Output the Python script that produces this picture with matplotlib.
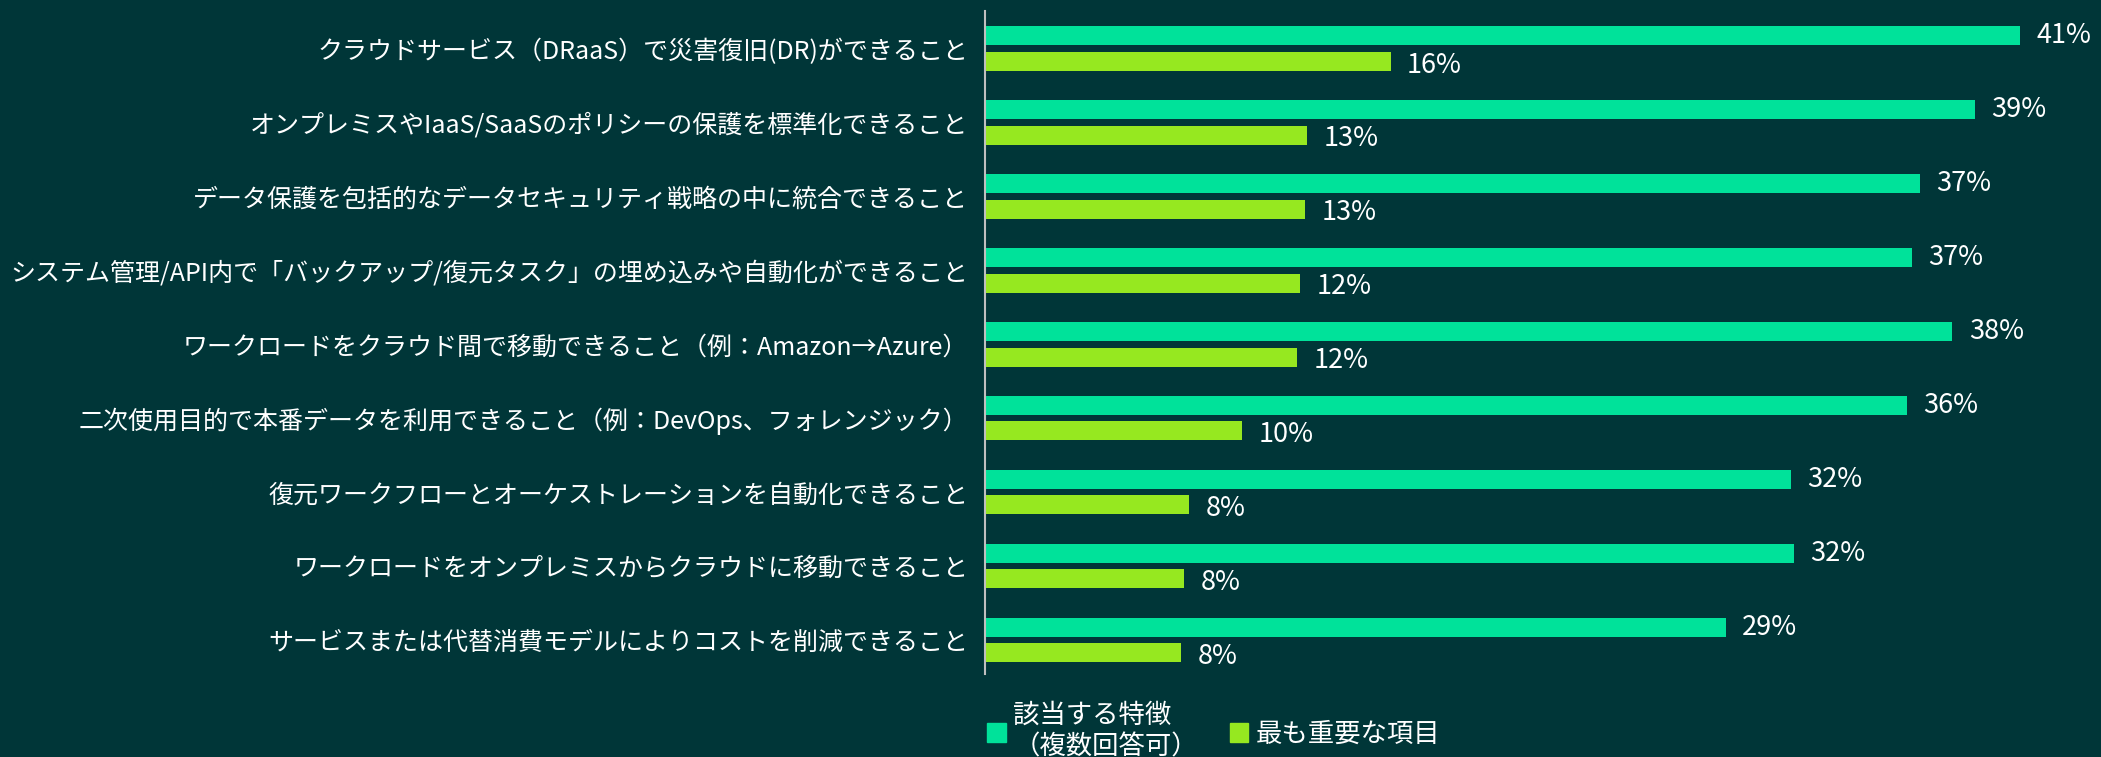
import matplotlib.pyplot as plt
from matplotlib.patches import Patch

plt.rcParams['font.family'] = ['Noto Sans CJK JP', 'DejaVu Sans']

categories = [
    "クラウドサービス（DRaaS）で災害復旧(DR)ができること",
    "オンプレミスやIaaS/SaaSのポリシーの保護を標準化できること",
    "データ保護を包括的なデータセキュリティ戦略の中に統合できること",
    "システム管理/API内で「バックアップ/復元タスク」の埋め込みや自動化ができること",
    "ワークロードをクラウド間で移動できること（例：Amazon→Azure）",
    "二次使用目的で本番データを利用できること（例：DevOps、フォレンジック）",
    "復元ワークフローとオーケストレーションを自動化できること",
    "ワークロードをオンプレミスからクラウドに移動できること",
    "サービスまたは代替消費モデルによりコストを削減できること",
]
applicable = [41.1, 39.3, 37.1, 36.8, 38.4, 36.6, 32.0, 32.1, 29.4]
most_important = [16.1, 12.8, 12.7, 12.5, 12.4, 10.2, 8.1, 7.9, 7.8]
applicable_labels = ["41%", "39%", "37%", "37%", "38%", "36%", "32%", "32%", "29%"]
important_labels = ["16%", "13%", "13%", "12%", "12%", "10%", "8%", "8%", "8%"]
series_names = ["該当する特徴\n（複数回答可）", "最も重要な項目"]

bg = "#003638"
c_teal = "#00E29A"
c_lime = "#96E820"

fig = plt.figure(figsize=(21.01, 7.57), dpi=100, facecolor=bg)
ax = fig.add_axes([0.4688, 0.1096, 0.5312, 0.876], facecolor=bg)

pos = list(range(len(categories)))
off = 0.1725
h = 0.257
ax.barh([p - off for p in pos], applicable, height=h, color=c_teal)
ax.barh([p + off for p in pos], most_important, height=h, color=c_lime)

for p, v, t in zip(pos, applicable, applicable_labels):
    ax.text(v + 0.65, p - off, t, va="center", ha="left", color="white", fontsize=19.5)
for p, v, t in zip(pos, most_important, important_labels):
    ax.text(v + 0.65, p + off + 0.05, t, va="center", ha="left", color="white", fontsize=19.5)

ax.set_xlim(0, 44.3)
ax.set_ylim(8.46, -0.51)
ax.set_yticks(pos)
ax.set_yticklabels(categories, fontsize=18, color="white")
ax.tick_params(axis="y", length=0, pad=12)
ax.set_xticks([])
for s in ["top", "right", "bottom"]:
    ax.spines[s].set_visible(False)
ax.spines["left"].set_color("#BFBFBF")
ax.spines["left"].set_linewidth(1.5)

handles = [Patch(color=c_teal), Patch(color=c_lime)]
leg = fig.legend(handles, series_names, loc="center left", bbox_to_anchor=(0.4585, 0.034),
                 ncol=2, frameon=False, fontsize=19, labelcolor="white",
                 handlelength=0.7, handleheight=0.7, handletextpad=0.3, columnspacing=1.2)

fig.savefig("out.png", dpi=100, facecolor=bg)
